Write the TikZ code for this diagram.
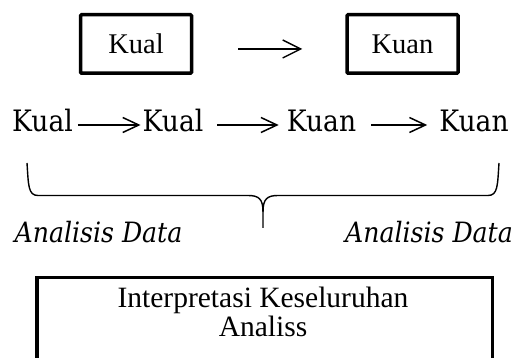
\documentclass[tikz,border=0pt]{standalone}
\usepackage{fontspec}
\setmainfont{Liberation Serif}
\newfontfamily\camb{DejaVu Serif Condensed}
\usetikzlibrary{arrows.meta}
\begin{document}
\begin{tikzpicture}[x=1pt,y=-1pt,
  boxstyle/.style={draw, line width=3.5pt, rounded corners=1pt, minimum width=111pt, minimum height=58.5pt, inner sep=0pt, font=\fontsize{28.5}{30}\selectfont},
  rowtext/.style={inner xsep=0pt, inner ysep=0pt, font=\camb\fontsize{29.5}{32}\selectfont},
  dtext/.style={inner sep=0pt, font=\camb\itshape\fontsize{28}{30}\selectfont},
  toparr/.style={line width=1.4pt, -{Straight Barb[length=18pt,width=18pt,line width=1.4pt]}},
  rowarr/.style={line width=1.5pt, -{Straight Barb[length=16pt,width=15pt,line width=1.5pt]}},
  bracestyle/.style={line width=1.4pt},
  bigbox/.style={line width=3.5pt}]
\clip (0,0) rectangle (520,358);
\fill[white] (0,0) rectangle (520,358);
% top boxes
\node[boxstyle] (kualbox) at (136,44) {Kual};
\node[boxstyle] (kuanbox) at (402.5,44) {Kuan};
\draw[toparr, shorten <=45pt, shorten >=43pt] ([yshift=-5pt]kualbox.east) -- ([yshift=-5pt]kuanbox.west);
% row 2
\node[rowtext, anchor=base] (r1) at (42.5,132) {Kual};
\node[rowtext, anchor=base] (r2) at (173,132) {Kual};
\node[rowtext, anchor=base] (r3) at (321.5,132) {Kuan};
\node[rowtext, anchor=base] (r4) at (474,132) {Kuan};
\draw[rowarr, shorten <=5pt, shorten >=2pt] ([yshift=7pt]r1.base east) -- ([yshift=7pt]r2.base west);
\draw[rowarr, shorten <=14pt, shorten >=8pt] ([yshift=7pt]r2.base east) -- ([yshift=7pt]r3.base west);
\draw[rowarr, shorten <=15pt, shorten >=12pt] ([yshift=7pt]r3.base east) -- ([yshift=7pt]r4.base west);
% brace
\draw[bracestyle] (27,163) .. controls (28.5,185) and (28,195.5) .. (38,195.5) -- (248,195.5) .. controls (259,195.5) and (263,199) .. (263,212) -- (263,228);
\draw[bracestyle] (499,163) .. controls (497.5,185) and (498,195.5) .. (488,195.5) -- (278,195.5) .. controls (267,195.5) and (263,199) .. (263,212);
% labels
\node[dtext, anchor=base] (d1) at (98.5,243) {Analisis Data};
\node[dtext, anchor=base] (d2) at (429,243) {Analisis Data};
% bottom box
\draw[bigbox] (36.75,370) -- (36.75,277.75) -- (492.25,277.75) -- (492.25,370);
\node[align=center, inner sep=0pt, anchor=base, font=\fontsize{29.5}{29}\selectfont] (interp) at (263,337) {Interpretasi Keseluruhan\\Analiss};
\end{tikzpicture}
\end{document}
